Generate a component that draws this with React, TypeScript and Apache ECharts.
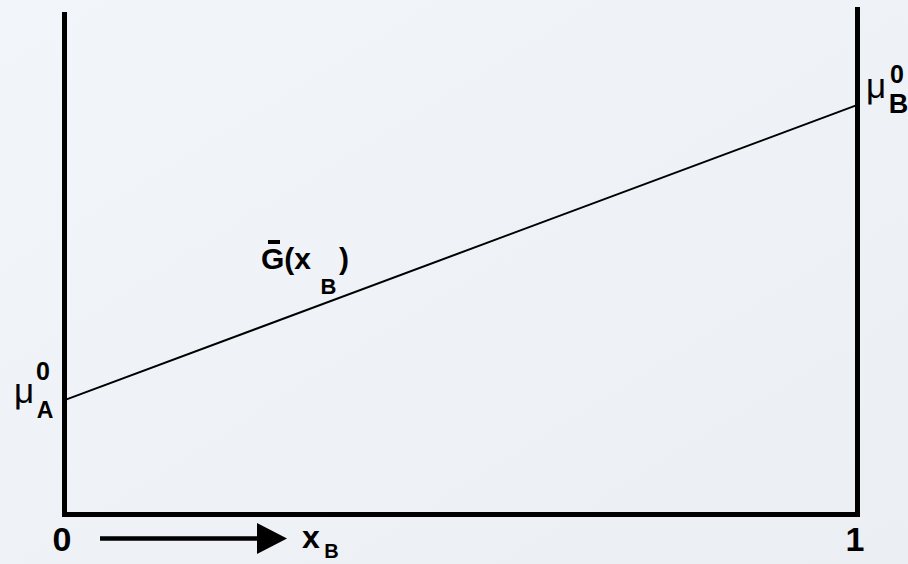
import React, { useEffect, useRef } from "react";
import * as echarts from "echarts";

// Data
const xValues = [0, 1];
const gibbsValues = [0.228, 0.819]; // mu_A^0 at x_B=0, mu_B^0 at x_B=1
const xTickLabels = ["0", "1"];
const rightFrameTop = 1.01;

const FONT = "'Liberation Sans', Arial, sans-serif";

export default function App() {
  const ref = useRef<HTMLDivElement>(null);
  useEffect(() => {
    if (!ref.current) return;
    const chart = echarts.init(ref.current, undefined, { renderer: "svg" });
    const black = "#000";
    const bold = (size: number) => ({ fontFamily: FONT, fontWeight: "bold", fontSize: size, fill: black });
    const reg = (size: number) => ({ fontFamily: FONT, fontWeight: "normal", fontSize: size, fill: black });
    const txt = (text: string, x: number, y: number, style: any, align = "center") => ({
      type: "text",
      style: { text, x, y, align, verticalAlign: "middle", ...style },
    });
    chart.setOption({
      animation: false,
      backgroundColor: {
        type: "linear", x: 0, y: 0, x2: 1, y2: 1,
        colorStops: [
          { offset: 0, color: "#f2f5f9" },
          { offset: 1, color: "#ebeef3" },
        ],
      },
      grid: { left: 64.5, right: 50.5, top: 14.5, bottom: 50 },
      xAxis: {
        type: "value",
        min: 0,
        max: 1,
        interval: 1,
        axisLine: { show: true, onZero: false, lineStyle: { color: black, width: 5, cap: "square" } },
        axisTick: { show: false },
        splitLine: { show: false },
        axisLabel: {
          color: black,
          fontFamily: FONT,
          fontWeight: "bold",
          fontSize: 34,
          margin: 24.5,
          verticalAlign: "middle",
          padding: [0, 5, 0, 0],
          formatter: (v: number) => xTickLabels[xValues.indexOf(v)] ?? "",
        },
      },
      yAxis: {
        type: "value",
        min: 0,
        max: 1,
        axisLine: { show: true, onZero: false, lineStyle: { color: black, width: 5, cap: "square" } },
        axisTick: { show: false },
        splitLine: { show: false },
        axisLabel: { show: false },
      },
      series: [
        {
          type: "line",
          data: xValues.map((x, i) => [x, gibbsValues[i]]),
          symbol: "none",
          lineStyle: { color: black, width: 2 },
          silent: true,
        },
        {
          type: "line",
          data: [[1, 0], [1, rightFrameTop]],
          symbol: "none",
          clip: false,
          lineStyle: { color: black, width: 5, cap: "square" },
          silent: true,
        },
      ],
      graphic: [
        // mu_A^0
        txt("μ", 24, 390, reg(35)),
        txt("0", 43, 371, bold(25)),
        txt("A", 45, 410, bold(23)),
        // mu_B^0
        txt("μ", 876, 85, reg(35)),
        txt("0", 897, 74, bold(25)),
        txt("B", 898.5, 103.5, bold(27)),
        // G-bar(x_B)
        txt("G(x", 261, 258, bold(30), "left"),
        { type: "rect", shape: { x: 268, y: 240, width: 12, height: 4 }, style: { fill: black } },
        txt("B", 328.5, 286.5, bold(22)),
        txt(")", 339, 258, bold(30), "left"),
        // arrow
        { type: "line", shape: { x1: 100, y1: 538.5, x2: 262, y2: 538.5 }, style: { stroke: black, lineWidth: 4.5 } },
        { type: "polygon", shape: { points: [[257, 523], [287, 538.5], [257, 554]] }, style: { fill: black } },
        // x_B
        txt("x", 311, 537, bold(32)),
        txt("B", 331.5, 551, { ...bold(20), lineHeight: 20 }),
      ],
    });
    return () => chart.dispose();
  }, []);
  return <div ref={ref} style={{ width: 908, height: 564, position: "absolute", left: 0, top: 0 }} />;
}
